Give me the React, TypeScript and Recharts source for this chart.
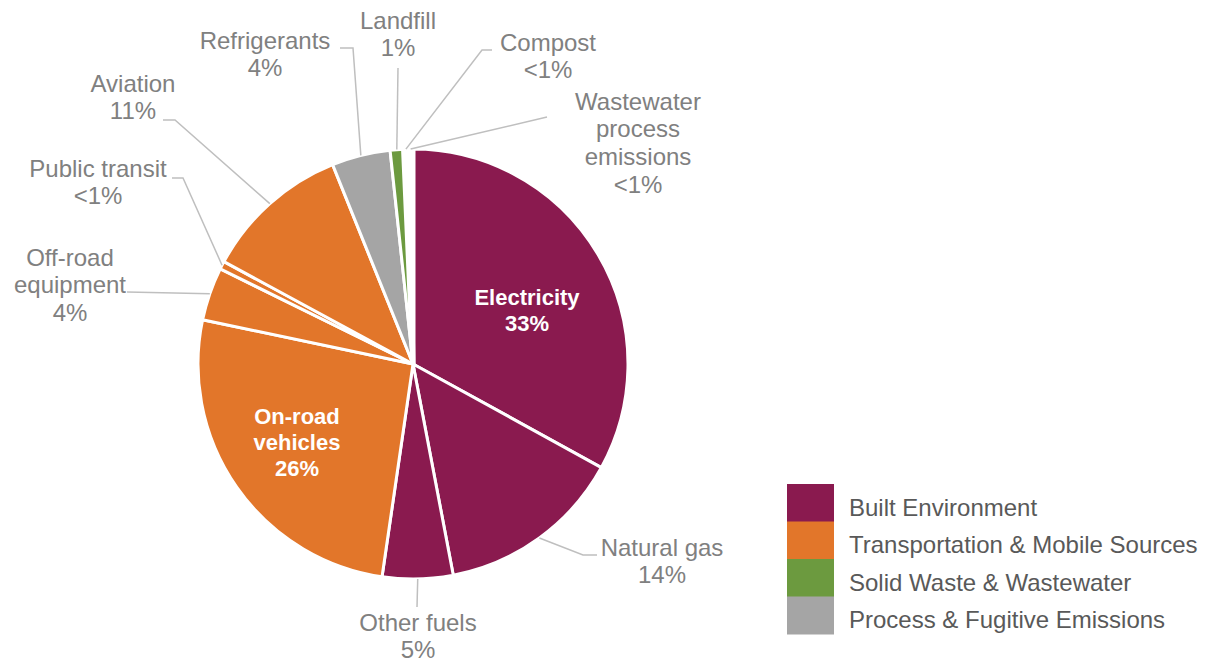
import React from 'react';
import { PieChart, Pie, Cell } from 'recharts';

// ---- data ----
const categories = [
  'Electricity',
  'Natural gas',
  'Other fuels',
  'On-road vehicles',
  'Off-road equipment',
  'Public transit',
  'Aviation',
  'Refrigerants',
  'Landfill',
  'Compost',
  'Wastewater process emissions',
];
const values = [33, 14, 5.3, 26, 4, 0.6, 11, 4.4, 1, 0.35, 0.35];
const valueLabels = ['33%', '14%', '5%', '26%', '4%', '<1%', '11%', '4%', '1%', '<1%', '<1%'];
const nameLines = [
  ['Electricity'],
  ['Natural gas'],
  ['Other fuels'],
  ['On-road', 'vehicles'],
  ['Off-road', 'equipment'],
  ['Public transit'],
  ['Aviation'],
  ['Refrigerants'],
  ['Landfill'],
  ['Compost'],
  ['Wastewater', 'process', 'emissions'],
];
const categoryGroup = [0, 0, 0, 1, 1, 1, 1, 3, 2, 2, 2];
const groups = [
  'Built Environment',
  'Transportation & Mobile Sources',
  'Solid Waste & Wastewater',
  'Process & Fugitive Emissions',
];
const groupColors = ['#8A1A4F', '#E2762A', '#6C9A3F', '#A5A5A5'];

const data = categories.map((name, i) => ({ name, value: values[i] }));

// ---- layout ----
const W = 1210;
const H = 663;
const CX = 413;
const CY = 364;
const R = 215;
const RAD = Math.PI / 180;
const FONT = '"Liberation Sans", Arial, sans-serif';
const LINE_H = 27.8;

type Lay = { tx: number; ty: number; inside?: boolean; path?: [number, number][] };
const labelLayout: Lay[] = [
  { tx: 114, ty: -67, inside: true },
  { tx: 249, ty: 183, path: [[170, 191], [184, 191]] },
  { tx: 5, ty: 258, path: [[4, 243]] },
  { tx: -116, ty: 52, inside: true },
  { tx: -343, ty: -107, path: [[-286, -72]] },
  { tx: -315, ty: -196, path: [[-230, -186], [-241, -186]] },
  { tx: -280, ty: -281, path: [[-238, -244], [-250, -244]] },
  { tx: -148, ty: -324, path: [[-60, -316], [-73, -316]] },
  { tx: -15, ty: -344, path: [[-15, -296]] },
  { tx: 135, ty: -322, path: [[69, -314], [79, -314]] },
  { tx: 225, ty: -263, path: [[134, -247]] },
];

function renderLabel(props: any) {
  const { midAngle, outerRadius, index } = props;
  const cx = typeof props.cx === 'number' ? props.cx : CX;
  const cy = typeof props.cy === 'number' ? props.cy : CY;
  const lay = labelLayout[index];
  const lines = [...nameLines[index], valueLabels[index]];
  const x = cx + lay.tx;
  const y0 = cy + lay.ty;
  const texts = (
    <text
      x={x}
      y={y0}
      textAnchor="middle"
      fontFamily={FONT}
      fontSize={lay.inside ? 22 : 24}
      fontWeight={lay.inside ? 700 : 400}
      fill={lay.inside ? '#ffffff' : '#808080'}
    >
      {lines.map((l, i) => (
        <tspan key={i} x={x} y={y0 + i * (lay.inside ? 26 : LINE_H)} dominantBaseline="central">
          {l}
        </tspan>
      ))}
    </text>
  );
  if (lay.inside || !lay.path) return <g key={`lbl-${index}`}>{texts}</g>;
  const r = outerRadius ?? R;
  const ax = cx + r * Math.cos(-midAngle * RAD);
  const ay = cy + r * Math.sin(-midAngle * RAD);
  const pts = [[ax, ay], ...lay.path.map(([dx, dy]) => [cx + dx, cy + dy])];
  return (
    <g key={`lbl-${index}`}>
      <polyline
        points={pts.map((p) => p.join(',')).join(' ')}
        fill="none"
        stroke="#BFBFBF"
        strokeWidth={1.5}
      />
      {texts}
    </g>
  );
}

function LegendBox() {
  const rowH = 37.5;
  return (
    <svg
      width={440}
      height={170}
      style={{ position: 'absolute', left: 780, top: 480 }}
    >
      {groups.map((g, i) => (
        <g key={g}>
          <rect x={7} y={4 + i * rowH} width={47} height={rowH + 0.5} fill={groupColors[i]} />
          <text
            x={69}
            y={4 + i * rowH + 23}
            fontFamily={FONT}
            fontSize={24}
            fill="#595959"
            dominantBaseline="central"
          >
            {g}
          </text>
        </g>
      ))}
    </svg>
  );
}

export default function App() {
  return (
    <div style={{ position: 'absolute', left: 0, top: 0, width: W, height: H, background: '#fff' }}>
      <PieChart width={W} height={H} margin={{ top: 0, right: 0, bottom: 0, left: 0 }}>
        <Pie
          data={data}
          dataKey="value"
          nameKey="name"
          cx={CX}
          cy={CY}
          outerRadius={R}
          startAngle={90}
          endAngle={-270}
          stroke="#ffffff"
          strokeWidth={3}
          label={renderLabel}
          labelLine={false}
          isAnimationActive={false}
        >
          {data.map((d, i) => (
            <Cell
              key={d.name}
              fill={groupColors[categoryGroup[i]]}
              strokeWidth={values[i] < 0.5 ? 5 : 3}
            />
          ))}
        </Pie>
      </PieChart>
      <LegendBox />
    </div>
  );
}
